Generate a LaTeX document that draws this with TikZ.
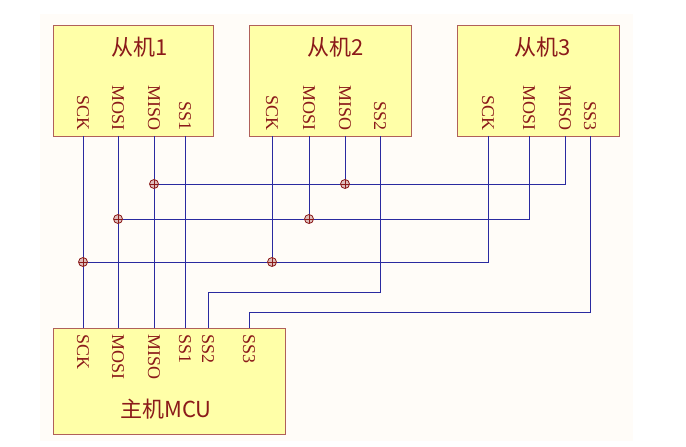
\documentclass[tikz,border=0pt]{standalone}
\usepackage{fontspec}
\setmainfont{Liberation Serif}
\newfontfamily\cjk{Noto Sans CJK SC}
\usetikzlibrary{positioning}
\definecolor{chipfill}{HTML}{FFFFA8}
\definecolor{chipedge}{HTML}{B0605A}
\definecolor{pintext}{HTML}{8B1A1A}
\definecolor{wire}{HTML}{2A2AA0}
\definecolor{paper}{HTML}{FFFCF8}
\tikzstyle{chip}=[rectangle,draw=chipedge,line width=1.2pt,fill=chipfill,anchor=north west,inner sep=0pt]
\tikzstyle{title}=[text=pintext,font=\cjk\fontsize{22}{22}\selectfont,inner sep=0pt]
\tikzstyle{pin}=[text=pintext,font=\fontsize{18}{18}\selectfont,rotate=-90,inner sep=0pt]
\tikzstyle{bus}=[draw=wire,line width=0.9pt]
\tikzstyle{junction}=[circle,draw=pintext,fill=chipedge!40,line width=0.8pt,minimum size=9pt,inner sep=0pt,
  path picture={\draw[pintext,line width=0.8pt] (path picture bounding box.north) -- (path picture bounding box.south)
  (path picture bounding box.west) -- (path picture bounding box.east);}]

\begin{document}
\begin{tikzpicture}[x=1pt,y=-1pt]
            \useasboundingbox (0,0) rectangle (686,447);
            \fill[paper] (40,14) rectangle (633,441);

            % SLAVES
            \node[chip,minimum width=160pt,minimum height=111pt] (s1) at (53,25) {};
            \node[chip,minimum width=162pt,minimum height=111pt] (s2) at (249,25) {};
            \node[chip,minimum width=162pt,minimum height=111pt] (s3) at (457,25) {};
            \node[title] at (140,47) {从机1};
            \node[title] at (336,47) {从机2};
            \node[title] at (543,47) {从机3};

            \foreach \x/\t/\n in {83/SCK/a1,118/MOSI/b1,154/MISO/c1,185/SS1/d1,
                                  272/SCK/a2,309/MOSI/b2,345/MISO/c2,380/SS2/d2,
                                  488/SCK/a3,529/MOSI/b3,565/MISO/c3,590/SS3/d3}
            {
              \node[pin,anchor=east] at (\x,131) {\t};
              \coordinate (\n) at (\x,136);
            }

            % MASTER
            \node[chip,minimum width=232pt,minimum height=106pt] (m) at (53,328) {};
            \node[title] at (166,409) {主机MCU};
            \foreach \x/\t/\n in {83/SCK/ma,118/MOSI/mb,154/MISO/mc,185/SS1/md,208/SS2/me,249/SS3/mf}
            {
              \node[pin,anchor=west] at (\x,334) {\t};
              \coordinate (\n) at (\x,328);
            }

            % WIRES
            \path[bus] (a1) -- (ma);
            \path[bus] (b1) -- (mb);
            \path[bus] (c1) -- (mc);
            \path[bus] (d1) -- (md);
            \path[bus] (c1 |- 0,184) -- (565,184) -- (c3);
            \path[bus] (b1 |- 0,219) -- (529,219) -- (b3);
            \path[bus] (a1 |- 0,262) -- (488,262) -- (a3);
            \path[bus] (c2) -- (345,184);
            \path[bus] (b2) -- (309,219);
            \path[bus] (a2) -- (272,262);
            \path[bus] (d2) -- (380,292) -- (208,292) -- (me);
            \path[bus] (d3) -- (590,312) -- (249,312) -- (mf);

            \foreach \p in {(154,184),(345,184),(118,219),(309,219),(83,262),(272,262)}
              \node[junction] at \p {};
\end{tikzpicture}
\end{document}
